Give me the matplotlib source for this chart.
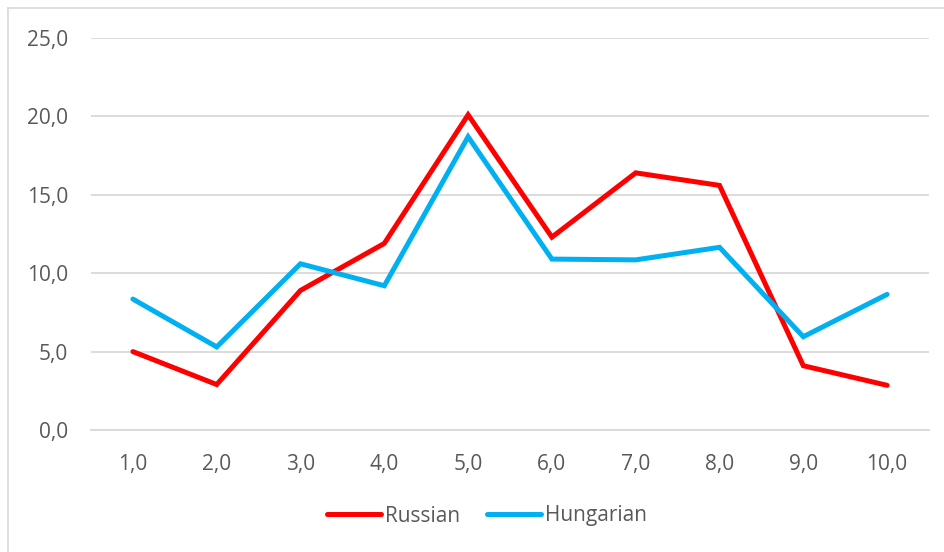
import matplotlib
matplotlib.use("Agg")
import matplotlib.pyplot as plt
from matplotlib.lines import Line2D

# Data
categories = ["1,0", "2,0", "3,0", "4,0", "5,0", "6,0", "7,0", "8,0", "9,0", "10,0"]
russian = [5.0, 2.9, 8.9, 11.9, 20.1, 12.3, 16.4, 15.6, 4.1, 2.85]
hungarian = [8.35, 5.3, 10.6, 9.2, 18.7, 10.9, 10.85, 11.65, 5.95, 8.65]
y_ticks = [0, 5, 10, 15, 20, 25]

RED = "#FF0000"
BLUE = "#00B0F0"
TEXT = "#595959"
GRID = "#D9D9D9"

plt.rcParams["font.family"] = ["Open Sans", "DejaVu Sans"]

W, H = 945, 552
fig = plt.figure(figsize=(W / 100, H / 100), dpi=100)
ax = fig.add_axes([91 / W, 1 - 430 / H, (929 - 91) / W, (430 - 38) / H])

x = list(range(len(categories)))
ax.plot(x, russian, color=RED, lw=3.6, solid_capstyle="round",
        solid_joinstyle="miter", label="Russian", zorder=3)
ax.plot(x, hungarian, color=BLUE, lw=3.6, solid_capstyle="round",
        solid_joinstyle="miter", label="Hungarian", zorder=3)

ax.set_xlim(-0.5, len(categories) - 0.5)
ax.set_ylim(0, 25)
ax.set_yticks(y_ticks)
ax.set_yticklabels([f"{v:.1f}".replace(".", ",") for v in y_ticks])
ax.set_xticks(x)
ax.set_xticklabels(categories)

ax.grid(axis="y", color=GRID, lw=1.3)
ax.set_axisbelow(True)
for side in ["top", "right", "left"]:
    ax.spines[side].set_visible(False)
ax.spines["bottom"].set_color(GRID)
ax.spines["bottom"].set_linewidth(1.3)
ax.tick_params(axis="both", length=0, colors=TEXT, labelsize=15)
ax.tick_params(axis="y", pad=16.5)
ax.tick_params(axis="x", pad=17)

# legend is centred on the whole chart box, which runs past the right edge
leg = fig.legend(loc="center", bbox_to_anchor=(487 / W, 1 - 516 / H), ncol=2,
                 frameon=False, fontsize=15, handlelength=2.6,
                 handletextpad=0.2, columnspacing=1.25)
for t in leg.get_texts():
    t.set_color(TEXT)

# chart border (only left and top edges are inside the image)
fig.add_artist(Line2D([8 / W, 8 / W], [0, 1 - 8 / H], transform=fig.transFigure,
                      color=GRID, lw=1.2))
fig.add_artist(Line2D([8 / W, 1], [1 - 8 / H, 1 - 8 / H], transform=fig.transFigure,
                      color=GRID, lw=1.2))

fig.savefig("out.png", dpi=100, facecolor="white")
